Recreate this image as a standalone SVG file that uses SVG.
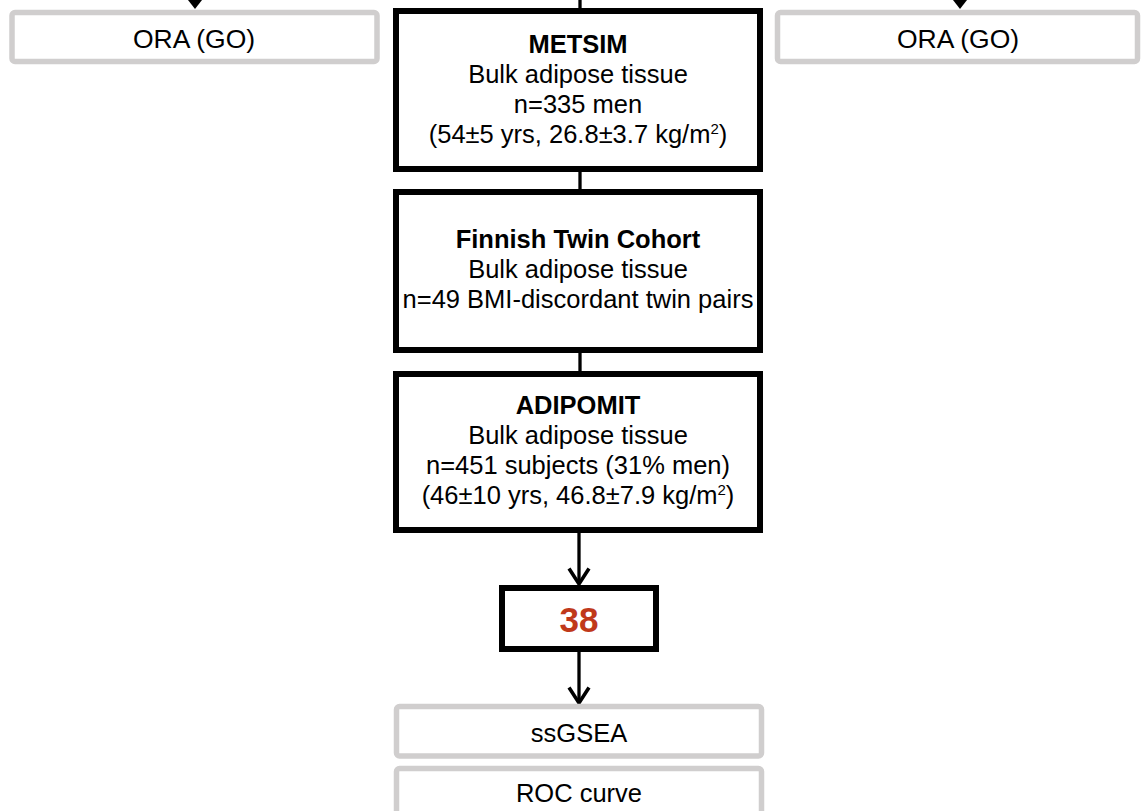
<svg xmlns="http://www.w3.org/2000/svg" width="1141" height="811" viewBox="0 0 1141 811">
<style>
text{font-family:"Liberation Sans",Arial,sans-serif;font-size:25.5px;fill:#000;text-anchor:middle}
.b{font-weight:bold}
.ora{font-size:26.5px}
.box{fill:#fff;stroke:#000;stroke-width:6}
.gbox{fill:#fff;stroke:#d0cece;stroke-width:5.5}
.ln{stroke:#000;stroke-width:3.3;fill:none}
.red{fill:#c0391b;font-size:35px;font-weight:bold}
</style>
<defs>
<marker id="chev" markerUnits="userSpaceOnUse" markerWidth="26" markerHeight="26" refX="21" refY="13" orient="auto" viewBox="0 0 26 26">
<path d="M5.5,3 L21,13 L5.5,23" fill="none" stroke="#000" stroke-width="3.6"/>
</marker>
</defs>
<g id="connectors">
<line class="ln" x1="580" y1="0" x2="580" y2="10"/>
<line class="ln" x1="580" y1="172" x2="580" y2="190"/>
<line class="ln" x1="580" y1="353" x2="580" y2="372"/>
<line class="ln" x1="579" y1="533" x2="579" y2="584" marker-end="url(#chev)"/>
<line class="ln" x1="579" y1="652" x2="579" y2="703" marker-end="url(#chev)"/>
<path d="M188,0 L202,0 L195,9 Z" fill="#000"/>
<path d="M953,0 L967,0 L960,9 Z" fill="#000"/>
</g>
<g id="ora-left">
<rect class="gbox" x="12" y="12.5" width="365" height="49" rx="3"/>
<text class="ora" x="194" y="48">ORA (GO)</text>
</g>
<g id="ora-right">
<rect class="gbox" x="777.5" y="12.5" width="360" height="49" rx="3"/>
<text class="ora" x="958" y="48">ORA (GO)</text>
</g>
<g id="metsim">
<rect class="box" x="396" y="11" width="364" height="158"/>
<text class="b" x="578" y="53">METSIM</text>
<text x="578" y="83">Bulk adipose tissue</text>
<text x="578" y="113">n=335 men</text>
<text x="578" y="143">(54±5 yrs, 26.8±3.7 kg/m<tspan font-size="15" dy="-9">2</tspan><tspan dy="9">)</tspan></text>
</g>
<g id="finnish">
<rect class="box" x="396" y="192" width="364" height="158"/>
<text class="b" x="578" y="248">Finnish Twin Cohort</text>
<text x="578" y="278">Bulk adipose tissue</text>
<text x="578" y="308">n=49 BMI-discordant twin pairs</text>
</g>
<g id="adipomit">
<rect class="box" x="396" y="374" width="364" height="156"/>
<text class="b" x="578" y="414">ADIPOMIT</text>
<text x="578" y="444">Bulk adipose tissue</text>
<text x="578" y="474">n=451 subjects (31% men)</text>
<text x="578" y="504">(46±10 yrs, 46.8±7.9 kg/m<tspan font-size="15" dy="-9">2</tspan><tspan dy="9">)</tspan></text>
</g>
<g id="n38">
<rect class="box" x="502" y="588" width="154" height="61"/>
<text class="red" x="579" y="632">38</text>
</g>
<g id="ssgsea">
<rect class="gbox" x="396.5" y="706.5" width="365" height="49.5" rx="3"/>
<text x="579" y="742">ssGSEA</text>
</g>
<g id="roc">
<rect class="gbox" x="396.5" y="768.5" width="365" height="60" rx="3"/>
<text x="579" y="802">ROC curve</text>
</g>
</svg>
